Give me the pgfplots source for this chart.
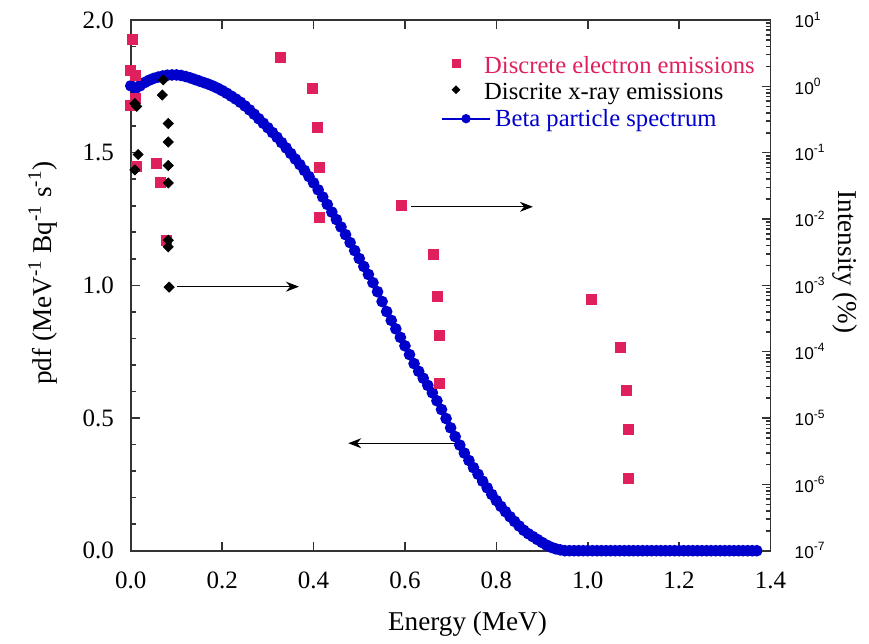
\documentclass[border=0pt]{standalone}
\usepackage{fontspec}
\setmainfont{Liberation Serif}
\setsansfont{Liberation Sans}
\usepackage{pgfplots}
\usepackage{pgfplotstable}
\pgfplotsset{compat=1.18}
\usetikzlibrary{arrows.meta}
\definecolor{cElec}{HTML}{E0205C}
\definecolor{cBeta}{HTML}{0000CC}
\definecolor{cFrame}{HTML}{333333}

% beta spectrum, pdf (MeV^-1 Bq^-1 s^-1)
\pgfplotstableread{
E pdf
0.00 1.752
0.01 1.742
0.02 1.752
0.03 1.764
0.04 1.773
0.05 1.780
0.06 1.785
0.07 1.789
0.08 1.792
0.09 1.793
0.10 1.793
0.11 1.791
0.12 1.787
0.13 1.782
0.14 1.776
0.15 1.770
0.16 1.764
0.17 1.758
0.18 1.751
0.19 1.743
0.20 1.734
0.21 1.724
0.22 1.713
0.23 1.702
0.24 1.690
0.25 1.676
0.26 1.661
0.27 1.645
0.28 1.628
0.29 1.611
0.30 1.594
0.31 1.576
0.32 1.558
0.33 1.538
0.34 1.518
0.35 1.497
0.36 1.476
0.37 1.455
0.38 1.433
0.39 1.410
0.40 1.386
0.41 1.360
0.42 1.333
0.43 1.305
0.44 1.276
0.45 1.248
0.46 1.220
0.47 1.191
0.48 1.161
0.49 1.131
0.50 1.101
0.51 1.071
0.52 1.041
0.53 1.010
0.54 0.976
0.55 0.939
0.56 0.901
0.57 0.868
0.58 0.836
0.59 0.804
0.60 0.772
0.61 0.739
0.62 0.705
0.63 0.676
0.64 0.650
0.65 0.623
0.66 0.595
0.67 0.565
0.68 0.532
0.69 0.498
0.70 0.463
0.71 0.430
0.72 0.398
0.73 0.368
0.74 0.340
0.75 0.313
0.76 0.288
0.77 0.262
0.78 0.237
0.79 0.212
0.80 0.189
0.81 0.167
0.82 0.147
0.83 0.128
0.84 0.110
0.85 0.093
0.86 0.077
0.87 0.064
0.88 0.053
0.89 0.042
0.90 0.031
0.91 0.021
0.92 0.013
0.93 0.007
0.94 0.003
0.95 0
0.96 0
0.97 0
0.98 0
0.99 0
1.00 0
1.01 0
1.02 0
1.03 0
1.04 0
1.05 0
1.06 0
1.07 0
1.08 0
1.09 0
1.10 0
1.11 0
1.12 0
1.13 0
1.14 0
1.15 0
1.16 0
1.17 0
1.18 0
1.19 0
1.20 0
1.21 0
1.22 0
1.23 0
1.24 0
1.25 0
1.26 0
1.27 0
1.28 0
1.29 0
1.30 0
1.31 0
1.32 0
1.33 0
1.34 0
1.35 0
1.36 0
1.37 0
}\betadata

% discrete electron emissions, intensity (%)
\pgfplotstableread{
E I
0.003 5.1
0.000 1.72
0.009 1.45
0.009 0.66
0.000 0.51
0.013 0.063
0.057 0.068
0.065 0.036
0.079 0.0048
0.327 2.7
0.398 0.94
0.409 0.237
0.413 0.059
0.413 0.0104
0.593 0.0162
0.663 0.00297
0.672 6.8e-4
0.676 1.78e-4
0.676 3.35e-5
1.007 6.2e-4
1.072 1.17e-4
1.085 2.6e-5
1.088 6.8e-6
1.088 1.23e-6
}\elecdata

% discrete x-ray emissions, intensity (%)
\pgfplotstableread{
E I
0.071 1.25
0.069 0.74
0.009 0.55
0.013 0.50
0.082 0.275
0.082 0.145
0.016 0.094
0.009 0.055
0.082 0.064
0.082 0.035
0.082 0.0048
0.082 0.0038
0.084 0.00094
}\xraydata

\pgfplotsset{
  base/.style={
    scale only axis, width=319.85bp, height=265.35bp,
    at={(0,0)}, anchor=south west,
    xmin=0, xmax=1.4, clip=false,
    axis line style={cFrame, line width=0.8bp},
    tick style={cFrame, line width=0.8bp},
    tick align=inside,
    major tick length=4.5bp, minor tick length=2.5bp,
    /pgf/number format/assume math mode=true,
    label style={font=\fontsize{13.6bp}{16bp}\selectfont},
  },
  mark legend/.style={legend image code/.code={%
    \draw[##1, mark size=#1] plot coordinates {(7.15bp,2bp)};}},
  beta legend/.style={legend image code/.code={%
    \draw[##1, mark repeat=2, mark phase=2, mark size=1.8bp]
      plot coordinates {(0bp,0.7bp)(12.15bp,0.7bp)(24.15bp,0.7bp)};}},
}

\begin{document}
\begin{tikzpicture}
\useasboundingbox (-65.4bp,-46.65bp) rectangle (369.1bp,275.35bp);

\begin{axis}[base,
  ymin=0, ymax=2,
  xtick={0,0.2,...,1.4}, ytick={0,0.5,...,2},
  minor y tick num=4,
  ytick pos=left,
  tick label style={font=\fontsize{12.5bp}{14bp}\selectfont},
  xticklabel style={/pgf/number format/.cd, fixed, fixed zerofill, precision=1, /tikz/.cd, yshift=-7bp},
  yticklabel style={/pgf/number format/.cd, fixed, fixed zerofill, precision=1, /tikz/.cd, xshift=-5bp},
  xlabel={Energy (MeV)},
  xlabel style={at={(axis description cs:0.5263,-0.139)}, anchor=center},
  ylabel={pdf (MeV\textsuperscript{-1} Bq\textsuperscript{-1} s\textsuperscript{-1})},
  ylabel style={at={(axis description cs:-0.1376,0.523)}, anchor=center},
]
\addplot[color=cBeta, line width=0.8bp, mark=*, mark size=2.5bp] table[x=E, y=pdf] {\betadata};

\draw[-{Stealth[length=6.5bp, width=5bp]}, line width=0.5bp] (axis cs:0.102,0.995) -- (axis cs:0.368,0.995);
\draw[-{Stealth[length=6.5bp, width=5bp]}, line width=0.5bp] (axis cs:0.613,1.296) -- (axis cs:0.880,1.296);
\draw[-{Stealth[length=6.5bp, width=5bp]}, line width=0.5bp] (axis cs:0.717,0.405) -- (axis cs:0.476,0.405);
\end{axis}

\begin{axis}[base,
  ymode=log, ymin=1e-7, ymax=10,
  axis x line=none, axis y line*=right,
  ytickten={-7,...,1},
  yticklabels={10\textsuperscript{-7},10\textsuperscript{-6},10\textsuperscript{-5},10\textsuperscript{-4},10\textsuperscript{-3},10\textsuperscript{-2},10\textsuperscript{-1},10\textsuperscript{0},10\textsuperscript{1}},
  yticklabel style={font=\sffamily\fontsize{8.6bp}{10bp}\selectfont, xshift=8.6bp},
  ylabel={Intensity (\%)},
  ylabel style={at={(axis description cs:1.1163,0.544)}, anchor=center, rotate=180},
  legend cell align=left,
  legend style={draw=none, fill=none, inner sep=0pt, outer sep=0pt,
    at={(axis description cs:0.4845,0.9335)}, anchor=north west,
    row sep=1.2bp, column sep=2.1bp,
    nodes={inner sep=0pt, text height=9bp, text depth=3bp, font=\fontsize{12.3bp}{14bp}\selectfont}},
]
\addplot[only marks, color=cElec, mark=square*, mark size=2.5bp, mark legend=2bp]
  table[x=E, y=I] {\elecdata};
\addlegendentry[text=cElec]{\hspace*{-5.5bp}Discrete electron emissions}
\addplot[only marks, color=black, mark=square*, mark options={rotate=45}, mark size=1.77bp, mark legend=1.35bp]
  table[x=E, y=I] {\xraydata};
\addlegendentry[text=black]{\hspace*{-5.5bp}Discrite x-ray emissions}
\addlegendimage{color=cBeta, line width=1bp, mark=*, beta legend}
\addlegendentry[text=cBeta]{Beta particle spectrum}
\end{axis}
\end{tikzpicture}
\end{document}
